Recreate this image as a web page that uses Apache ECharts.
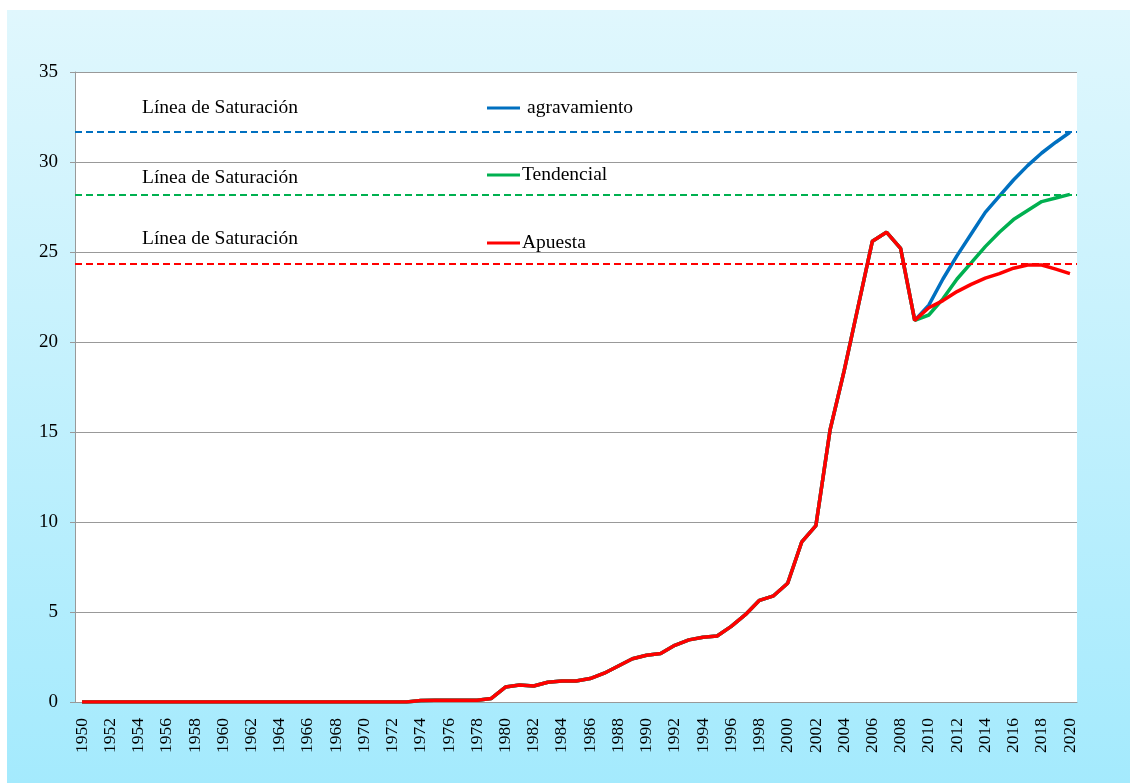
<!DOCTYPE html>
<html>
<head>
<meta charset="utf-8">
<script src="https://cdn.jsdelivr.net/npm/echarts@6/dist/echarts.min.js"></script>
<style>
  html, body { margin: 0; padding: 0; background: #fff; }
  #bg { position: absolute; left: 7px; top: 10px; width: 1123px; height: 773px;
        background: linear-gradient(to bottom, #e0f7fd 0%, #a4eafd 100%); }
  #main { position: absolute; left: 0; top: 0; width: 1130px; height: 783px; }
</style>
</head>
<body>
<div id="bg"></div>
<div id="main"></div>
<script>
const years = [
  "1950","1951","1952","1953","1954","1955","1956","1957","1958","1959",
  "1960","1961","1962","1963","1964","1965","1966","1967","1968","1969",
  "1970","1971","1972","1973","1974","1975","1976","1977","1978","1979",
  "1980","1981","1982","1983","1984","1985","1986","1987","1988","1989",
  "1990","1991","1992","1993","1994","1995","1996","1997","1998","1999",
  "2000","2001","2002","2003","2004","2005","2006","2007","2008","2009",
  "2010","2011","2012","2013","2014","2015","2016","2017","2018","2019","2020"
];

// 1950 - 2009
const history = [
  0, 0, 0, 0, 0, 0, 0, 0, 0, 0,
  0, 0, 0, 0, 0, 0, 0, 0, 0, 0,
  0, 0, 0, 0, 0.08, 0.1, 0.1, 0.1, 0.1, 0.2,
  0.83, 0.94, 0.89, 1.1, 1.17, 1.17, 1.3, 1.6, 2.0, 2.4,
  2.6, 2.7, 3.15, 3.45, 3.6, 3.67, 4.2, 4.85, 5.65, 5.9,
  6.6, 8.9, 9.8, 15.1, 18.4, 22.0, 25.6, 26.1, 25.2, 21.2
];

// 2010 - 2020
const agravamiento = [22.05, 23.5, 24.8, 26.0, 27.2, 28.1, 29.0, 29.8, 30.5, 31.1, 31.65];
const tendencial = [21.5, 22.4, 23.5, 24.4, 25.3, 26.1, 26.8, 27.3, 27.8, 28.0, 28.2];
const apuesta = [21.9, 22.3, 22.8, 23.2, 23.55, 23.8, 24.1, 24.28, 24.28, 24.05, 23.8];

const saturacion = [31.7, 28.2, 24.35];

const serif = "'Liberation Serif', 'DejaVu Serif', serif";
const colors = ["#0070c0", "#00b050", "#ff0000"];
const names = ["agravamiento", "Tendencial", "Apuesta"];
const proj = [agravamiento, tendencial, apuesta];

const chart = echarts.init(document.getElementById("main"));

const legendTops = [98, 165, 233];
const legendGaps = [7, 2, 2];

const option = {
  backgroundColor: "transparent",
  animation: false,
  textStyle: { fontFamily: serif },
  grid: { left: 75, right: 53, top: 72, bottom: 81, show: true, backgroundColor: "#fff", borderWidth: 0 },
  legend: names.map((n, i) => ({
    data: [n],
    left: 487,
    top: legendTops[i],
    padding: 0,
    icon: "rect",
    itemWidth: 33,
    itemHeight: 3,
    itemGap: 0,
    textStyle: { fontFamily: serif, fontSize: 19.5, color: "#000", padding: [0, 0, 0, legendGaps[i] - 5] },
    selectedMode: false
  })),
  graphic: saturacion.map((v, i) => ({
    type: "text",
    left: 142,
    top: [98, 168, 229][i],
    style: { text: "Línea de Saturación", font: "19.5px " + serif, fill: "#000" }
  })),
  xAxis: {
    type: "category",
    data: years,
    boundaryGap: true,
    axisLine: { lineStyle: { color: "#999", width: 1 } },
    axisTick: { interval: 0, length: 5, lineStyle: { color: "#999" } },
    axisLabel: { interval: 1, rotate: 90, fontSize: 17.5, color: "#000", fontFamily: serif, margin: 16 },
    splitLine: { show: false }
  },
  yAxis: {
    type: "value",
    min: 0,
    max: 35,
    interval: 5,
    axisLine: { show: true, lineStyle: { color: "#999", width: 1 } },
    axisTick: { show: true, length: 5, lineStyle: { color: "#999" } },
    axisLabel: { fontSize: 19, color: "#000", fontFamily: serif, margin: 17 },
    splitLine: { lineStyle: { color: "#999", width: 1 } }
  },
  series: names.map((n, i) => ({
    name: n,
    type: "line",
    data: history.concat(proj[i]),
    symbol: "none",
    color: colors[i],
    lineStyle: { width: 3.5, color: colors[i] },
    z: 3 + i,
    markLine: {
      silent: true,
      symbol: "none",
      label: { show: false },
      lineStyle: { type: [7, 4], width: 2, color: colors[i] },
      data: [{ yAxis: saturacion[i] }]
    }
  }))
};

chart.setOption(option);
</script>
</body>
</html>
